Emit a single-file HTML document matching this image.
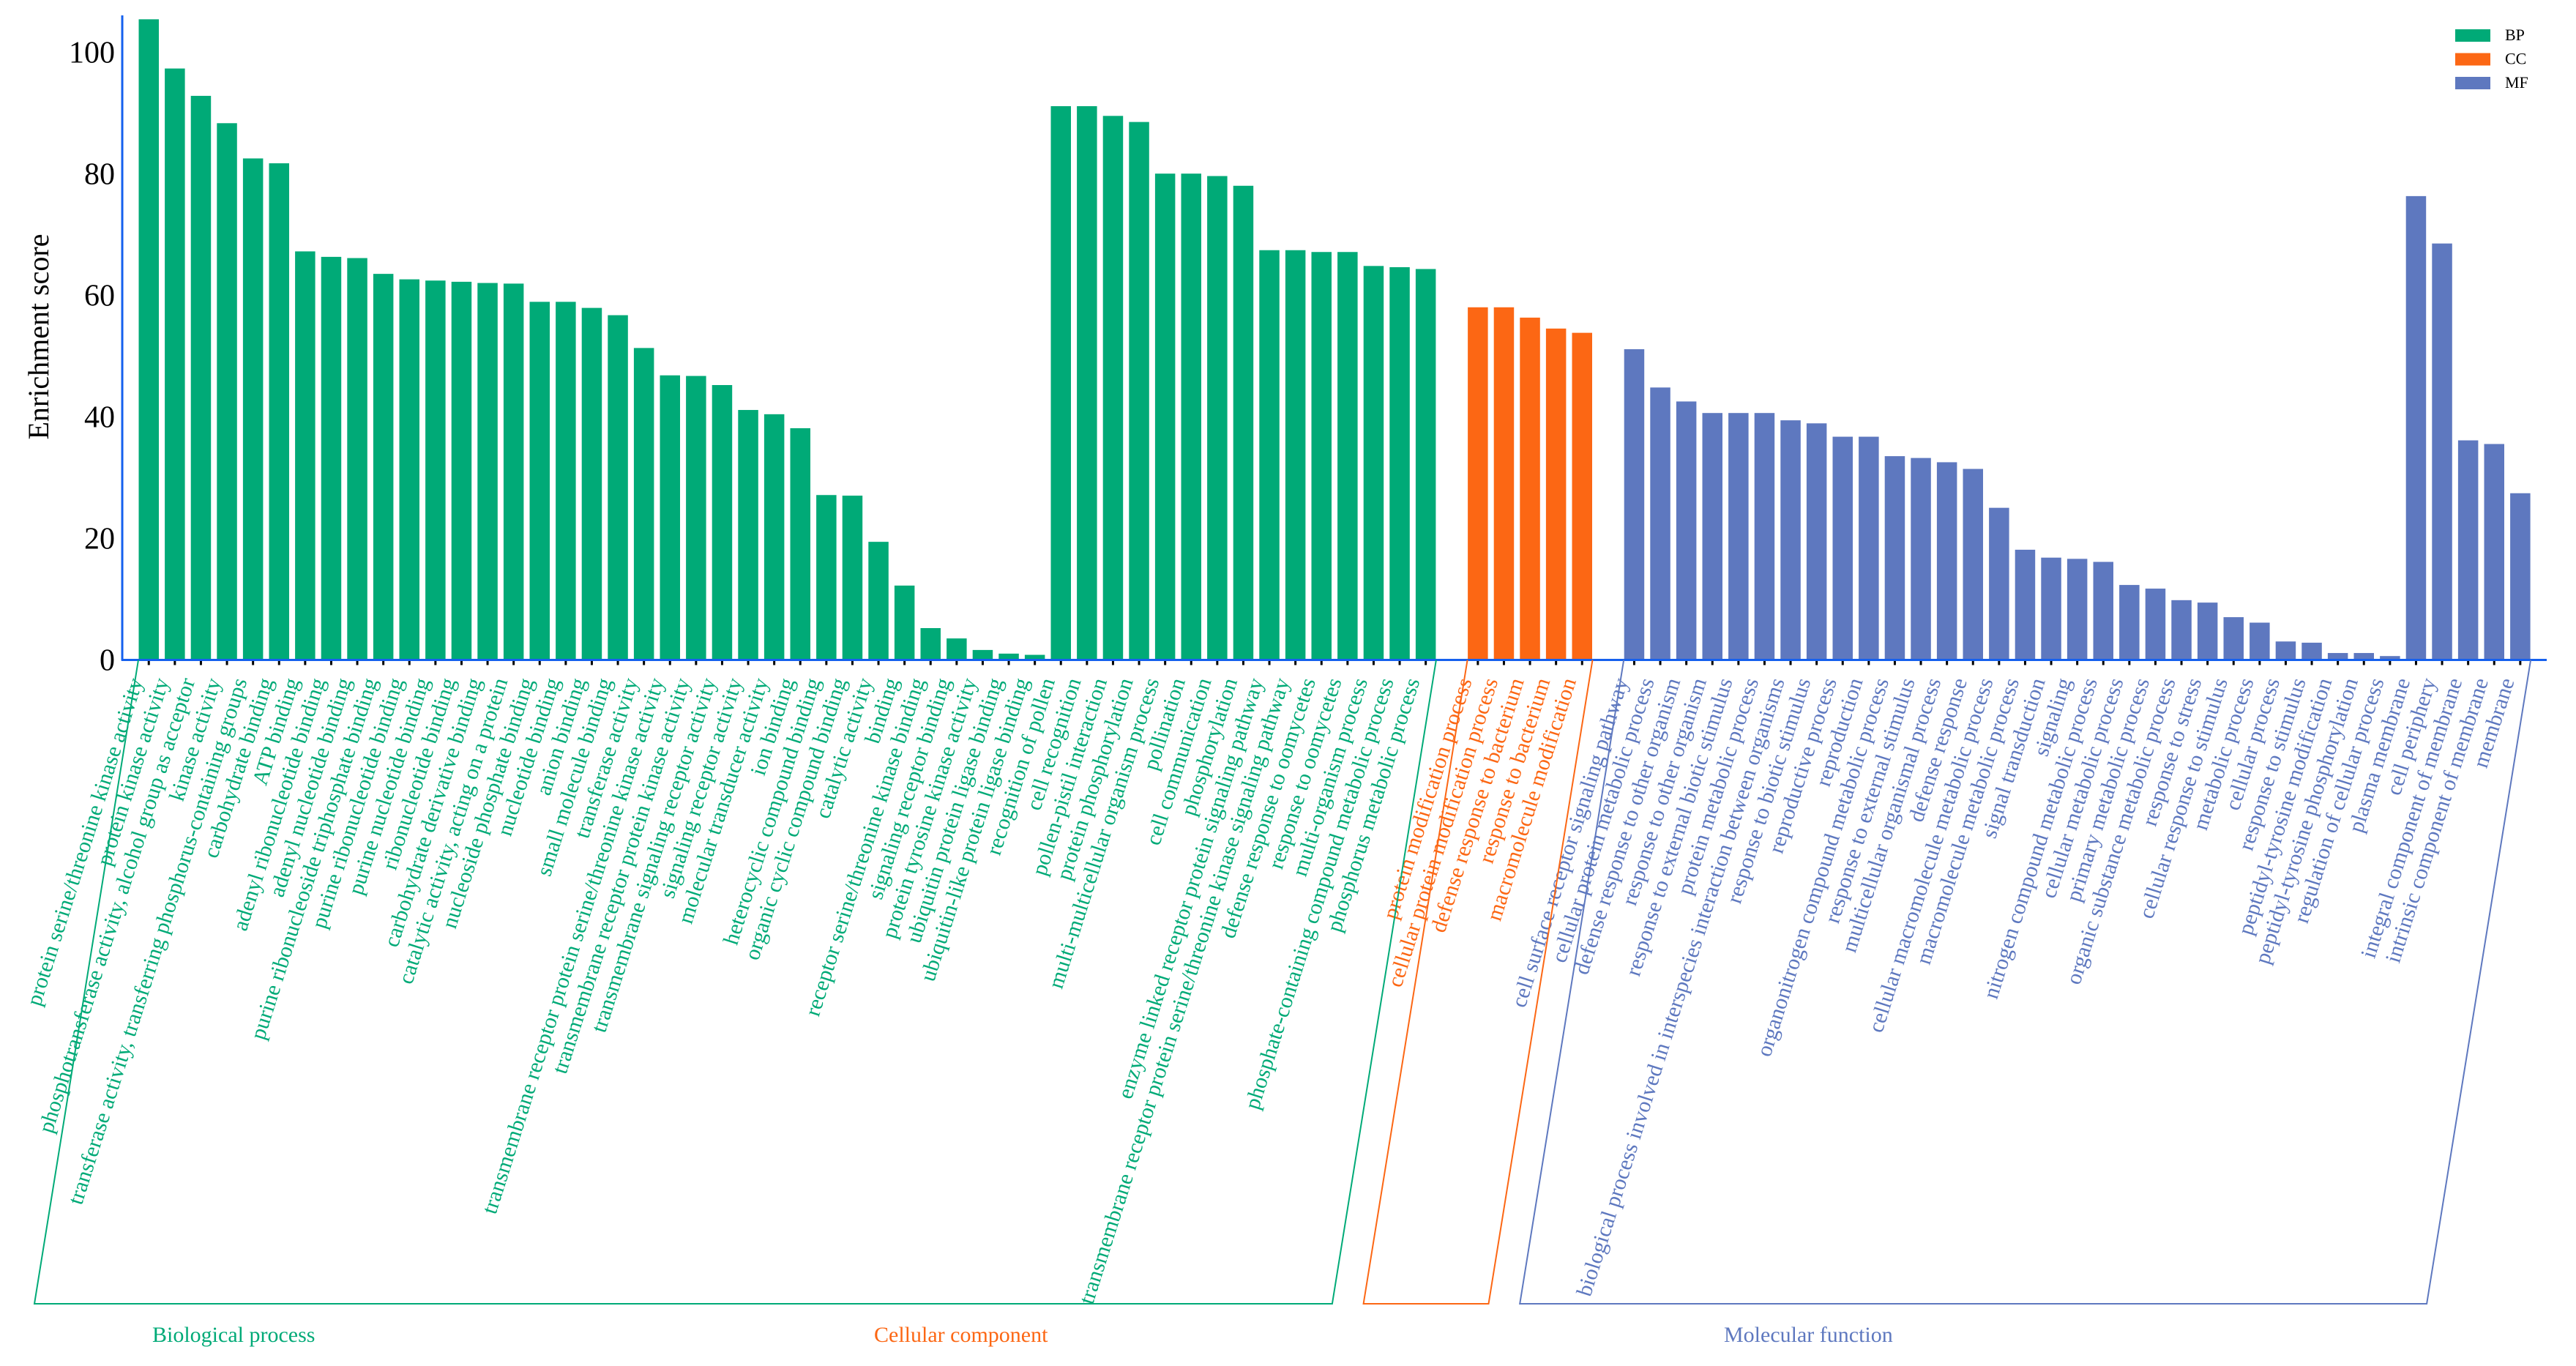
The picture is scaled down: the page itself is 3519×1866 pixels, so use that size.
<!DOCTYPE html>
<html><head><meta charset="utf-8"><style>
html,body{margin:0;padding:0;background:#fff;}
svg{display:block;font-family:"Liberation Serif",serif;}
</style></head><body>
<svg id="chart" width="3519" height="1866" viewBox="0 0 3519 1866" xmlns="http://www.w3.org/2000/svg">
<g id="plot"></g>
</svg>
<script>
const bpLabels=["protein serine/threonine kinase activity","protein kinase activity","phosphotransferase activity, alcohol group as acceptor","kinase activity","transferase activity, transferring phosphorus-containing groups","carbohydrate binding","ATP binding","adenyl ribonucleotide binding","adenyl nucleotide binding","purine ribonucleoside triphosphate binding","purine ribonucleotide binding","purine nucleotide binding","ribonucleotide binding","carbohydrate derivative binding","catalytic activity, acting on a protein","nucleoside phosphate binding","nucleotide binding","anion binding","small molecule binding","transferase activity","transmembrane receptor protein serine/threonine kinase activity","transmembrane receptor protein kinase activity","transmembrane signaling receptor activity","signaling receptor activity","molecular transducer activity","ion binding","heterocyclic compound binding","organic cyclic compound binding","catalytic activity","binding","receptor serine/threonine kinase binding","signaling receptor binding","protein tyrosine kinase activity","ubiquitin protein ligase binding","ubiquitin-like protein ligase binding","recognition of pollen","cell recognition","pollen-pistil interaction","protein phosphorylation","multi-multicellular organism process","pollination","cell communication","phosphorylation","enzyme linked receptor protein signaling pathway","transmembrane receptor protein serine/threonine kinase signaling pathway","defense response to oomycetes","response to oomycetes","multi-organism process","phosphate-containing compound metabolic process","phosphorus metabolic process"];
const bpValues=[105.5,97.4,92.9,88.4,82.6,81.8,67.3,66.4,66.2,63.6,62.7,62.5,62.3,62.1,62.0,59.0,59.0,58.0,56.8,51.4,46.9,46.8,45.3,41.2,40.5,38.2,27.2,27.1,19.5,12.3,5.3,3.6,1.7,1.1,0.9,91.2,91.2,89.6,88.6,80.1,80.1,79.7,78.1,67.5,67.5,67.2,67.2,64.9,64.7,64.4];
const ccLabels=["protein modification process","cellular protein modification process","defense response to bacterium","response to bacterium","macromolecule modification"];
const ccValues=[58.1,58.1,56.4,54.6,53.9];
const mfLabels=["cell surface receptor signaling pathway","cellular protein metabolic process","defense response to other organism","response to other organism","response to external biotic stimulus","protein metabolic process","biological process involved in interspecies interaction between organisms","response to biotic stimulus","reproductive process","reproduction","organonitrogen compound metabolic process","response to external stimulus","multicellular organismal process","defense response","cellular macromolecule metabolic process","macromolecule metabolic process","signal transduction","signaling","nitrogen compound metabolic process","cellular metabolic process","primary metabolic process","organic substance metabolic process","response to stress","cellular response to stimulus","metabolic process","cellular process","response to stimulus","peptidyl-tyrosine modification","peptidyl-tyrosine phosphorylation","regulation of cellular process","plasma membrane","cell periphery","integral component of membrane","intrinsic component of membrane","membrane"];
const mfValues=[51.2,44.9,42.6,40.7,40.7,40.7,39.5,39.0,36.8,36.8,33.6,33.3,32.6,31.5,25.1,18.2,16.9,16.7,16.2,12.4,11.8,9.9,9.5,7.1,6.2,3.1,2.9,1.2,1.2,0.7,76.4,68.6,36.2,35.6,27.5];
const yTicks=[0,20,40,60,80,100];
const groupNames=["Biological process","Cellular component","Molecular function"];
const legendKeys=["BP","CC","MF"];

const NS="http://www.w3.org/2000/svg";
const plot=document.getElementById('plot');
const colors=["#00AA77","#FC6714","#5E78BF"];
const x0=189, pitch=35.6, bw=28.5, baseY=901.5, pxPerUnit=8.3;
function yScale(v){return baseY-v*pxPerUnit;}
function xScale(slot){return x0+slot*pitch;}
function mk(tag,attrs,parent){const e=document.createElementNS(NS,tag);for(const k in attrs)e.setAttribute(k,attrs[k]);(parent||plot).appendChild(e);return e;}

const groups=[[bpLabels,bpValues],[ccLabels,ccValues],[mfLabels,mfValues]];
let slot=0;
const ranges=[];
groups.forEach((g,gi)=>{
  const start=slot;
  g[1].forEach((v,i)=>{
    const x=xScale(slot);
    const r=mk('rect',{x:x,y:yScale(v),width:bw,height:baseY-yScale(v),fill:colors[gi],stroke:"#fff","stroke-width":1});
    
    
    const cx=x+bw/2;
    const tk=mk('line',{x1:cx,y1:baseY,x2:cx,y2:baseY+7,stroke:"#000","stroke-width":3});
    
    
    const t=mk('text',{transform:`translate(${cx-8},930) rotate(-72.5)`,"text-anchor":"end","font-size":30,fill:colors[gi]});
    t.textContent=g[0][i];
    
    
    slot++;
  });
  ranges.push([start,slot-1]);
  slot++;
});

const ya=mk('line',{x1:167,y1:21,x2:167,y2:baseY+1,stroke:"#1560ee","stroke-width":3});


const xa=mk('line',{x1:166,y1:baseY,x2:3479,y2:baseY,stroke:"#1560ee","stroke-width":3});


yTicks.forEach(v=>{
  const t=mk('text',{x:157,y:yScale(v)+14,"text-anchor":"end","font-size":42,fill:"#000"});
  t.textContent=v;
  
  
});
const yt=mk('text',{transform:"translate(66,460) rotate(-90)","text-anchor":"middle","font-size":40,fill:"#000"});
yt.textContent="Enrichment score";



const slant=142, botY=1781;
const glabelX=[208,1194,2355];
ranges.forEach((r,gi)=>{
  const L=xScale(r[0]), R=xScale(r[1])+bw;
  const p=mk('polyline',{points:`${L},${baseY} ${L-slant},${botY} ${R-slant},${botY} ${R},${baseY}`,fill:"none",stroke:colors[gi],"stroke-width":2});
  
  
  const t=mk('text',{x:glabelX[gi],y:1833,"font-size":30,fill:colors[gi]});
  t.textContent=groupNames[gi];
  
  
});

legendKeys.forEach((k,i)=>{
  const y=40+i*32.5;
  const r=mk('rect',{x:3354,y:y,width:48,height:17,fill:colors[i]});
  
  
  const t=mk('text',{x:3422,y:y+15,"font-size":22,fill:"#000"});
  t.textContent=k;
  
  
});
</script>
</body></html>
